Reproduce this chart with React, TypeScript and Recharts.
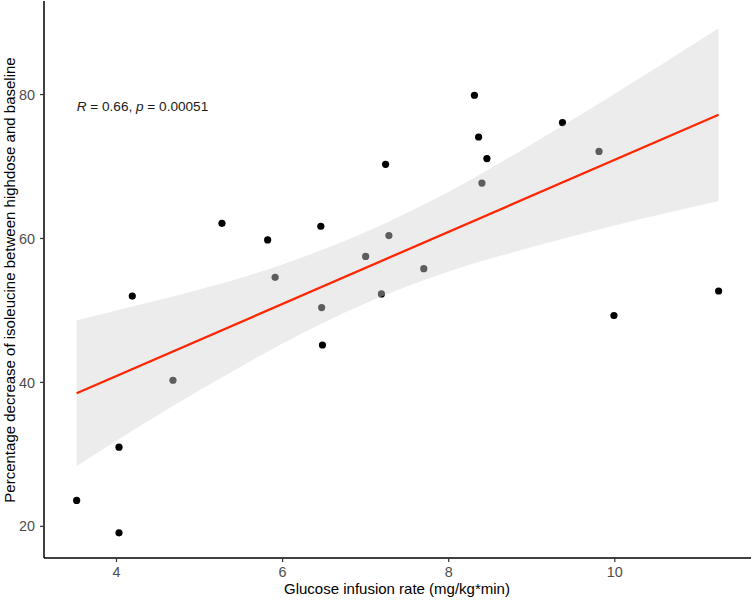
import React from 'react';
import { ComposedChart, Scatter, Line, Area, XAxis, YAxis } from 'recharts';

const glucoseRate = [
    4.19, 5.27, 5.82, 6.46, 6.48, 4.03, 3.52, 4.03, 8.31, 9.37, 8.36, 8.46,
    7.24, 11.25, 9.99, 7.0, 5.91, 6.47, 4.68, 9.81, 8.4, 7.28, 7.7, 7.19,
];
const isoleucineDrop = [
    52.0, 62.1, 59.8, 61.7, 45.2, 31.0, 23.6, 19.1, 79.9, 76.1, 74.1, 71.1,
    70.3, 52.7, 49.3, 57.5, 54.6, 50.4, 40.3, 72.1, 67.7, 60.4, 55.8, 52.3,
];

// fitted line ends
const fitX = [3.52, 11.25];
const fitY = [38.5, 77.2];

// confidence band edges
const bandX = [3.52, 4, 5, 6, 7, 8, 9, 10, 11.25];
const bandLow = [28.4, 31.9, 38.9, 45.4, 51.0, 55.4, 58.8, 61.8, 65.2];
const bandHigh = [48.6, 50.0, 52.9, 56.4, 60.9, 66.5, 73.1, 80.1, 89.2];

const xTicks = [4, 6, 8, 10];
const yTicks = [20, 40, 60, 80];

const points = glucoseRate.map((x, i) => ({ x, y: isoleucineDrop[i] }));
const fitRows = fitX.map((x, i) => ({ x, fit: fitY[i] }));
const bandRows = bandX.map((x, i) => ({ x, band: [bandLow[i], bandHigh[i]] }));

const FONT = 'Liberation Sans, Arial, sans-serif';

const App: React.FC = () => {
    return (
        <div style={{ position: 'absolute', left: 0, top: 0, background: '#fff' }}>
            <ComposedChart
                width={752}
                height={600}
                margin={{ top: 1, right: 1, bottom: 0, left: 0 }}
                style={{ fontFamily: FONT }}
            >
                <XAxis
                    type="number"
                    dataKey="x"
                    domain={[3.127, 11.64]}
                    ticks={xTicks}
                    height={42}
                    tickSize={4}
                    tickMargin={5}
                    allowDataOverflow
                    axisLine={{ stroke: '#000', strokeWidth: 1.5 }}
                    tickLine={{ stroke: '#333', strokeWidth: 1.2 }}
                    tick={{ fill: '#4d4d4d', fontSize: 14.4 }}
                />
                <YAxis
                    type="number"
                    domain={[15.6, 93.0]}
                    ticks={yTicks}
                    width={44}
                    tickSize={4}
                    tickMargin={5}
                    allowDataOverflow
                    axisLine={{ stroke: '#000', strokeWidth: 1.5 }}
                    tickLine={{ stroke: '#333', strokeWidth: 1.2 }}
                    tick={{ fill: '#4d4d4d', fontSize: 14.4 }}
                />

                {/* points first, the band is laid over them like ggplot does */}
                <Scatter
                    data={points}
                    dataKey="y"
                    fill="#000"
                    zIndex={300}
                    shape={(p: any) => <circle cx={p.cx} cy={p.cy} r={3.6} fill="#000" />}
                    isAnimationActive={false}
                />
                <Area
                    data={bandRows}
                    dataKey="band"
                    type="monotone"
                    stroke="none"
                    fill="#d4d4d4"
                    fillOpacity={0.44}
                    zIndex={700}
                    isAnimationActive={false}
                />
                <Line
                    data={fitRows}
                    dataKey="fit"
                    type="linear"
                    stroke="#ff2600"
                    strokeWidth={2.3}
                    dot={false}
                    zIndex={800}
                    isAnimationActive={false}
                />

                <text x={76.7} y={111} fontSize={13.6} fill="#1a1a1a" fontFamily={FONT}>
                    <tspan fontStyle="italic">R</tspan>
                    <tspan> = 0.66, </tspan>
                    <tspan fontStyle="italic">p</tspan>
                    <tspan> = 0.00051</tspan>
                </text>
                <text x={397} y={594} fontSize={15} fill="#000" textAnchor="middle" fontFamily={FONT}>
                    Glucose infusion rate (mg/kg*min)
                </text>
                <text
                    x={0}
                    y={0}
                    fontSize={15}
                    fill="#000"
                    textAnchor="middle"
                    fontFamily={FONT}
                    transform="translate(15 280) rotate(-90)"
                >
                    Percentage decrease of isoleucine between highdose and baseline
                </text>
            </ComposedChart>
        </div>
    );
};

export default App;
